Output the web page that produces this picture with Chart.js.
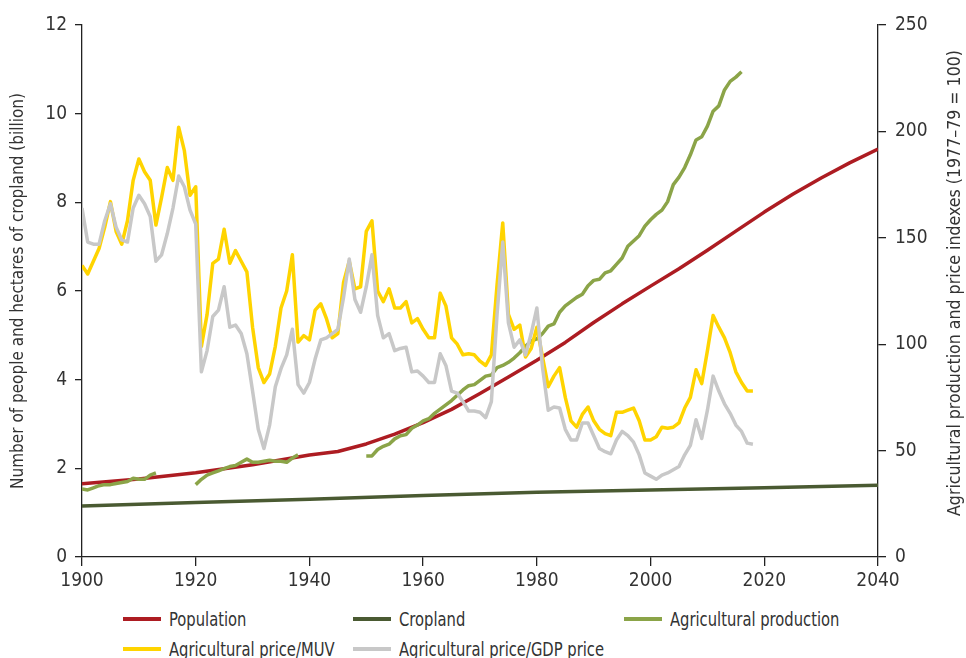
<!DOCTYPE html>
<html>
<head>
<meta charset="utf-8">
<script src="https://cdn.jsdelivr.net/npm/chart.js@4/dist/chart.umd.min.js"></script>
<style>
  html, body { margin: 0; padding: 0; background: #fff; }
  #wrap { position: relative; width: 966px; height: 658px; overflow: hidden; }
  #chart { position: absolute; left: 0; top: 0; }
  .lg { position: absolute; font-family: 'Liberation Sans Narrow', 'DejaVu Sans Condensed', sans-serif;
        font-size: 20px; color: #333; white-space: nowrap; line-height: 24px; }
  .lg span.sw { position: absolute; left: 0; top: 10px; width: 38px; height: 4px; }
  .lg span.tx { position: absolute; left: 46px; top: 0; transform: scaleX(0.82); transform-origin: 0 50%; }
</style>
</head>
<body>
<div id="wrap">
  <canvas id="chart" width="966" height="600"></canvas>
  <div id="legend"></div>
</div>
<script>
document.addEventListener('DOMContentLoaded', function() {
    // Population and cropland, billion (left axis)
    const popYears = [1900, 1910, 1920, 1930, 1940, 1945, 1950, 1955, 1960, 1965, 1970, 1975, 1980, 1985, 1990, 1995, 2000, 2005, 2010, 2015, 2020, 2025, 2030, 2035, 2040];
    const population = [1.65, 1.76, 1.9, 2.08, 2.3, 2.38, 2.55, 2.77, 3.03, 3.33, 3.69, 4.06, 4.44, 4.84, 5.29, 5.71, 6.11, 6.5, 6.92, 7.35, 7.78, 8.18, 8.55, 8.89, 9.2];

    const cropYears = [1900, 1920, 1940, 1960, 1980, 2000, 2020, 2040];
    const cropland = [1.15, 1.23, 1.3, 1.39, 1.46, 1.51, 1.56, 1.62];

    // Agricultural production index, 1977-79 = 100 (right axis); null = gap
    const prodYears = [1900, 1901, 1902, 1903, 1904, 1905, 1906, 1907, 1908, 1909, 1910, 1911, 1912, 1913, 1914,
        1919, 1920, 1921, 1922, 1923, 1924, 1925, 1926, 1927, 1928, 1929, 1930, 1931, 1932, 1933, 1934, 1935, 1936, 1937, 1938, 1939,
        1949, 1950, 1951, 1952, 1953, 1954, 1955, 1956, 1957, 1958, 1959, 1960, 1961, 1962, 1963, 1964, 1965, 1966, 1967, 1968, 1969,
        1970, 1971, 1972, 1973, 1974, 1975, 1976, 1977, 1978, 1979, 1980, 1981, 1982, 1983, 1984, 1985, 1986, 1987, 1988, 1989,
        1990, 1991, 1992, 1993, 1994, 1995, 1996, 1997, 1998, 1999, 2000, 2001, 2002, 2003, 2004, 2005, 2006, 2007, 2008, 2009,
        2010, 2011, 2012, 2013, 2014, 2015, 2016];
    const production = [32, 31.5, 32.5, 33.5, 34, 34, 34.5, 35, 35.5, 37, 36.5, 36.5, 38.5, 39.5, null,
        null, 34, 36.5, 38.5, 39.5, 40.5, 41.5, 42.5, 43, 44.5, 46, 44.5, 44.5, 45, 45.5, 45, 45, 44.5, 46.5, 48, null,
        null, 47.5, 47.5, 50.5, 52, 53, 55.5, 57, 57.5, 60.5, 62, 64, 65, 67.5, 69.5, 71.5, 73.5, 76, 78.5, 80.5, 81,
        83, 85, 85.5, 89, 90, 91.5, 93.5, 96, 99, 101.5, 102.5, 105, 108.5, 109.5, 115, 118, 120, 122, 123.5, 127.5,
        130, 130.5, 133.5, 134.5, 137.5, 140.5, 146, 148.5, 151, 155.5, 158.5, 161, 163, 167, 175, 178.5, 183, 189, 196, 197.5,
        202.5, 209.5, 212, 219.5, 223.5, 225.5, 228];

    // Agricultural price indexes, 1900-2018 (right axis)
    const priceStart = 1900;
    const priceMUV = [137, 133, 139, 145, 155, 167, 153, 147, 158, 177,
        187, 181, 177, 156, 169, 183, 177, 202, 191, 170,
        174, 99, 114, 138, 140, 154, 138, 144, 139, 134,
        108, 89, 82, 86, 99, 117, 125, 142, 101, 104,
        102, 116, 119, 112, 103, 105, 129, 139, 126, 127,
        153, 158, 125, 120, 126, 117, 117, 120, 110, 112,
        107, 103, 103, 124, 118, 103, 100, 95, 95.5, 95,
        92, 90, 95, 128, 157, 114, 107, 109, 94, 98,
        108, 94, 80, 85, 89, 75, 64, 61, 67, 70.5,
        64, 60, 58, 57, 68, 68, 69, 70, 64, 55,
        55, 56.5, 61, 60.5, 61, 63, 70, 75, 88, 81.5,
        97, 113.5, 108, 103, 96, 87, 82, 78, 78];
    const priceGDP = [164, 148, 147, 147, 158, 166, 155, 149, 148, 164,
        170, 166, 160, 139, 142, 152, 164, 179, 174, 163,
        156.5, 87, 97, 113, 116, 127, 108, 109, 105, 95.5,
        78, 60, 51, 62, 80, 88.5, 95, 107, 81, 77,
        82, 93, 102, 103, 105, 107, 122, 140, 121, 115,
        127, 142, 113.5, 103, 105, 97, 98, 98.6, 87, 87.4,
        85, 82, 82, 95.5, 90, 78, 77, 73, 68.6, 68.6,
        68, 65.5, 73, 114, 148, 110, 98.6, 102, 95, 105,
        117, 89, 69, 70.5, 70, 60, 55, 55, 63, 63,
        57, 51, 49.5, 48.5, 55, 59, 57, 54, 48, 39.5,
        38, 36.5, 38.5, 39.5, 41, 42.5, 48, 52.5, 64.5, 55.7,
        69, 85, 78, 72, 67.5, 62, 59, 53.5, 53];

    // Axis ticks
    const xTicks = [1900, 1920, 1940, 1960, 1980, 2000, 2020, 2040];
    const leftTicks = [0, 2, 4, 6, 8, 10, 12];
    const rightTicks = [0, 50, 100, 150, 200, 250];

    const seriesNames = ['Population', 'Cropland', 'Agricultural production', 'Agricultural price/MUV', 'Agricultural price/GDP price'];
    const seriesColors = ['#AD1C22', '#4A5A32', '#8BA448', '#FFD400', '#C8C8C8'];

    const FONT = "'Liberation Sans Narrow', 'DejaVu Sans Condensed', sans-serif";
    const INK = '#333333';

    function pairs(xs, ys) {
        return xs.map((x, i) => ({ x: x, y: ys[i] }));
    }
    function yearly(start, ys) {
        return ys.map((y, i) => ({ x: start + i, y: y }));
    }

    const datasets = [
        { label: seriesNames[0], data: pairs(popYears, population), yAxisID: 'y', order: 5 },
        { label: seriesNames[1], data: pairs(cropYears, cropland), yAxisID: 'y', order: 4 },
        { label: seriesNames[2], data: pairs(prodYears, production), yAxisID: 'y1', order: 3 },
        { label: seriesNames[3], data: yearly(priceStart, priceMUV), yAxisID: 'y1', order: 2 },
        { label: seriesNames[4], data: yearly(priceStart, priceGDP), yAxisID: 'y1', order: 1 }
    ].map((d, i) => Object.assign(d, {
        borderColor: seriesColors[i],
        backgroundColor: seriesColors[i],
        borderWidth: 3.5,
        pointRadius: 0,
        tension: 0,
        spanGaps: false,
        borderJoinStyle: 'round',
        borderCapStyle: 'butt'
    }));

    // right axis title reads bottom-to-top, drawn by hand
    const rightTitle = {
        id: 'rightTitle',
        afterDraw(chart) {
            const ctx = chart.ctx;
            ctx.save();
            ctx.translate(955, 283);
            ctx.rotate(-Math.PI / 2);
            ctx.font = '17.6px ' + FONT;
            ctx.fillStyle = INK;
            ctx.textAlign = 'center';
            ctx.textBaseline = 'middle';
            ctx.fillText('Agricultural production and price indexes (1977\u201379 = 100)', 0, 0);
            ctx.restore();
        }
    };

    const axisCommon = {
        border: { display: true, color: '#222', width: 1.3 },
        ticks: { color: INK, font: { family: FONT, size: 19 } }
    };

    const ctx = document.getElementById('chart').getContext('2d');
    new Chart(ctx, {
        type: 'line',
        data: { datasets: datasets },
        plugins: [rightTitle],
        options: {
            responsive: false,
            devicePixelRatio: 1,
            animation: false,
            layout: { padding: { top: 25, left: 0, right: 0, bottom: 0 } },
            plugins: { legend: { display: false }, tooltip: { enabled: false } },
            scales: {
                x: {
                    type: 'linear', min: 1900, max: 2040,
                    border: axisCommon.border,
                    grid: { drawOnChartArea: false, drawTicks: true, tickLength: 9, color: '#222', lineWidth: 1.3 },
                    afterBuildTicks: s => { s.ticks = xTicks.map(v => ({ value: v })); },
                    ticks: Object.assign({}, axisCommon.ticks, { padding: 4, maxRotation: 0, callback: v => String(v) }),
                    afterFit: s => { s.height = 43; }
                },
                y: {
                    position: 'left', min: 0, max: 12,
                    border: axisCommon.border,
                    grid: { drawOnChartArea: false, drawTicks: true, tickLength: 7, color: '#222', lineWidth: 1.3 },
                    afterBuildTicks: s => { s.ticks = leftTicks.map(v => ({ value: v })); },
                    ticks: Object.assign({}, axisCommon.ticks, { padding: 8 }),
                    title: {
                        display: true,
                        text: 'Number of people and hectares of cropland (billion)',
                        color: INK,
                        font: { family: FONT, size: 17 },
                        padding: { top: 8, bottom: 0 }
                    },
                    afterFit: s => { s.width = 82; }
                },
                y1: {
                    position: 'right', min: 0, max: 250,
                    border: axisCommon.border,
                    grid: { drawOnChartArea: false, drawTicks: true, tickLength: 8, color: '#222', lineWidth: 1.3 },
                    afterBuildTicks: s => { s.ticks = rightTicks.map(v => ({ value: v })); },
                    ticks: Object.assign({}, axisCommon.ticks, { padding: 9 }),
                    afterFit: s => { s.width = 88; }
                }
            }
        }
    });

    // Legend: two rows, columns aligned like the original
    const legendPos = [
        { left: 123, top: 607 },
        { left: 353, top: 607 },
        { left: 624, top: 607 },
        { left: 123, top: 637 },
        { left: 353, top: 637 }
    ];
    const legend = document.getElementById('legend');
    seriesNames.forEach((name, i) => {
        const item = document.createElement('div');
        item.className = 'lg';
        item.style.left = legendPos[i].left + 'px';
        item.style.top = legendPos[i].top + 'px';
        item.innerHTML = '<span class="sw" style="background:' + seriesColors[i] + '"></span><span class="tx"></span>';
        item.querySelector('.tx').textContent = name;
        legend.appendChild(item);
    });
});
</script>
</body>
</html>
